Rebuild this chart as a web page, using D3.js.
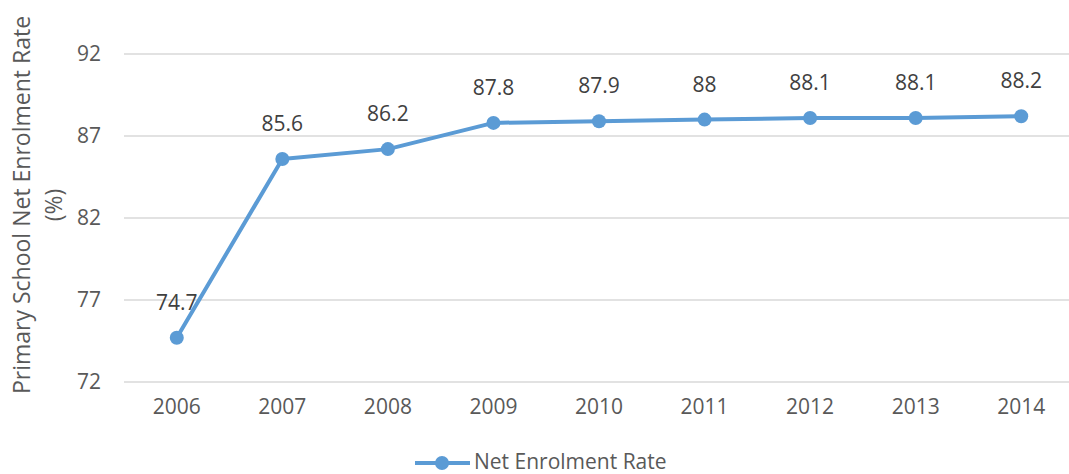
<!DOCTYPE html>
<html><head><meta charset="utf-8">
<script src="https://cdn.jsdelivr.net/npm/d3@7"></script>
<style>body{margin:0;background:#fff}svg{display:block}text{font-family:"Open Sans",sans-serif}</style>
</head><body><svg id="c" width="1069" height="474"></svg>
<script>
const years = ["2006","2007","2008","2009","2010","2011","2012","2013","2014"];
const netEnrolmentRate = [74.7, 85.6, 86.2, 87.8, 87.9, 88, 88.1, 88.1, 88.2];
const yTicks = [72, 77, 82, 87, 92];
const seriesName = "Net Enrolment Rate";
const yTitle = ["Primary School Net Enrolment Rate", "(%)"];

const svg = d3.select("#c");
const color = "#5B9BD5";
const x = d3.scaleBand().domain(years).range([124, 1074]);
const y = d3.scaleLinear().domain([72, 92]).range([382, 54]);

// gridlines
svg.append("g").selectAll("line").data(yTicks).join("line")
  .attr("x1", 124).attr("x2", 1069)
  .attr("y1", d => y(d)).attr("y2", d => y(d))
  .attr("stroke", "#d9d9d9").attr("stroke-width", 1.5);

// y axis labels
const yAxis = d3.axisLeft(y).tickValues(yTicks).tickSize(0).tickPadding(0);
const gy = svg.append("g").attr("transform", "translate(101,0)").call(yAxis);
gy.select(".domain").remove();
gy.selectAll("text").attr("font-size", 21).attr("fill", "#595959").attr("font-family", "Open Sans");

// x axis labels
const xAxis = d3.axisBottom(x).tickSize(0).tickPadding(0);
const gx = svg.append("g").attr("transform", "translate(0,399)").call(xAxis);
gx.select(".domain").remove();
gx.selectAll("text").attr("font-size", 21).attr("fill", "#595959").attr("font-family", "Open Sans");

// y title
const t = svg.append("text").attr("transform", "translate(30,205) rotate(-90)")
  .attr("text-anchor", "middle").attr("font-size", 23).attr("fill", "#595959");
t.append("tspan").attr("x", 0).attr("dy", 0).text(yTitle[0]);
t.append("tspan").attr("x", 0).attr("dy", 32).text(yTitle[1]);

// line
const cx = d => x(d) + x.bandwidth() / 2;
const line = d3.line().x((d, i) => cx(years[i])).y(d => y(d));
svg.append("path").datum(netEnrolmentRate).attr("d", line)
  .attr("fill", "none").attr("stroke", color).attr("stroke-width", 4).attr("stroke-linejoin", "round");
svg.append("g").selectAll("circle").data(netEnrolmentRate).join("circle")
  .attr("cx", (d, i) => cx(years[i])).attr("cy", d => y(d)).attr("r", 7).attr("fill", color);

// data labels
svg.append("g").selectAll("text").data(netEnrolmentRate).join("text")
  .attr("x", (d, i) => cx(years[i])).attr("y", d => y(d) - 28)
  .attr("text-anchor", "middle").attr("font-size", 21).attr("fill", "#404040")
  .text(d => d);

// legend
const lg = svg.append("g");
lg.append("line").attr("x1", 415).attr("x2", 470).attr("y1", 463).attr("y2", 463)
  .attr("stroke", color).attr("stroke-width", 4);
lg.append("circle").attr("cx", 442).attr("cy", 463).attr("r", 7).attr("fill", color);
lg.append("text").attr("x", 474).attr("y", 469).attr("font-size", 21).attr("fill", "#595959").text(seriesName);
</script></body></html>
